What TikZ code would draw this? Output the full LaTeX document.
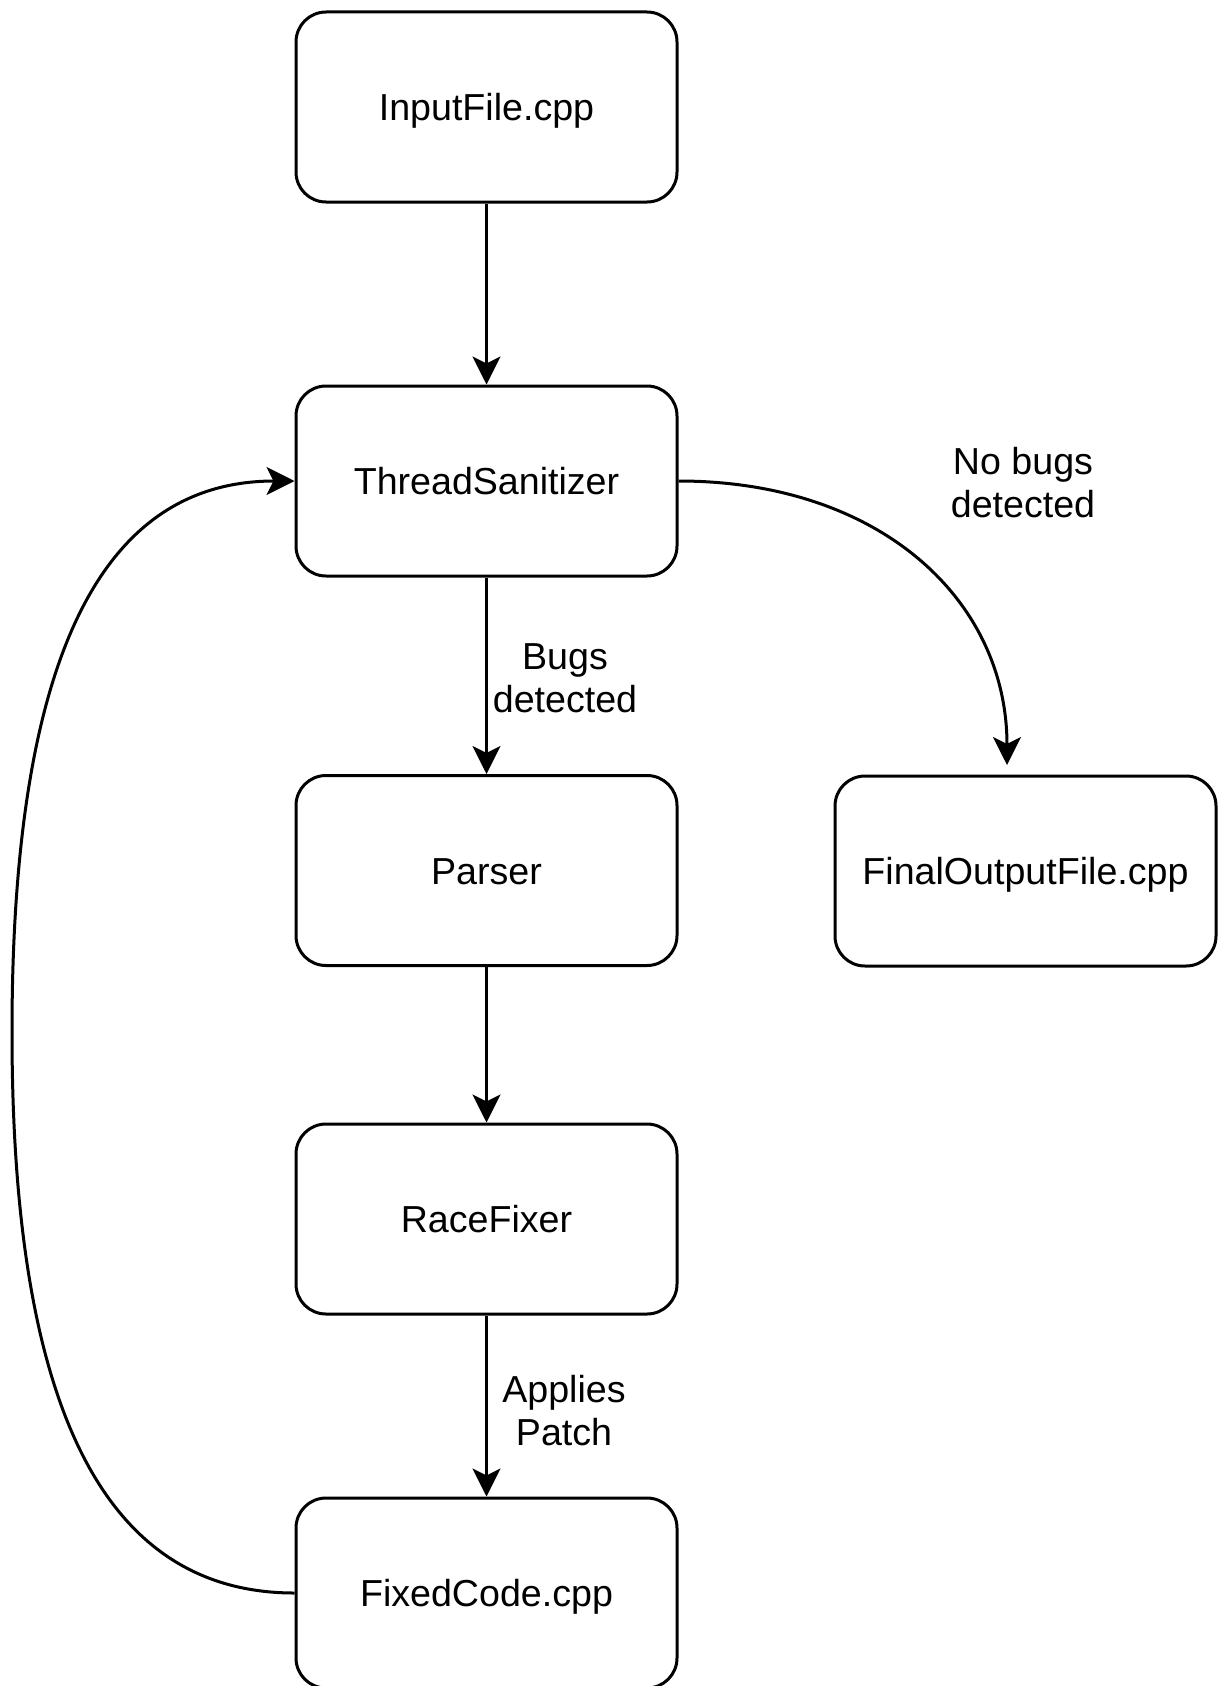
\documentclass[tikz,border=0pt]{standalone}
\usepackage{fontspec}
\setmainfont{Liberation Sans}
\usetikzlibrary{arrows.meta}
\begin{document}
\begin{tikzpicture}[x=0.5pt,y=-0.5pt,
  box/.style={draw=black,line width=1.5pt,rounded corners=15pt,minimum width=190.5pt,minimum height=95pt,inner sep=0pt,text height=13.7pt,text depth=0pt,font=\fontsize{18.8pt}{21.5pt}\selectfont},
  lbl/.style={align=center,inner sep=0pt,font=\fontsize{18.8pt}{21.5pt}\selectfont},
  arr/.style={line width=1.5pt,-{Stealth[length=14pt,width=14pt,inset=3.5pt]}}]
\useasboundingbox (0,0) rectangle (1219,1686);
\node[box] (in) at (486.5,107) {InputFile.cpp};
\node[box] (ts) at (486.5,481) {ThreadSanitizer};
\node[box] (pa) at (486.5,870.5) {Parser};
\node[box] (rf) at (486.5,1219) {RaceFixer};
\node[box] (fc) at (486.5,1593) {FixedCode.cpp};
\node[box] (fo) at (1025.5,871) {FinalOutputFile.cpp};
\coordinate (fotip) at (1007,765);
\coordinate (loopmid) at (12,1032);
\draw[arr] (in) -- (ts);
\draw[arr] (ts) -- (pa);
\draw[arr] (pa) -- (rf);
\draw[arr] (rf) -- (fc);
\draw[arr] (ts.east) .. controls (880,481) and (1007,600) .. (fotip);
\draw[arr] (fc.west) .. controls (100,1593) and (12,1400) .. (loopmid) .. controls (12,660) and (100,481) .. (ts.west);
\node[lbl] (nb) at (1023,483) {No bugs\\detected};
\node[lbl] (bd) at (565,678) {Bugs\\detected};
\node[lbl] (ap) at (564,1411) {Applies\\Patch};
\end{tikzpicture}
\end{document}
